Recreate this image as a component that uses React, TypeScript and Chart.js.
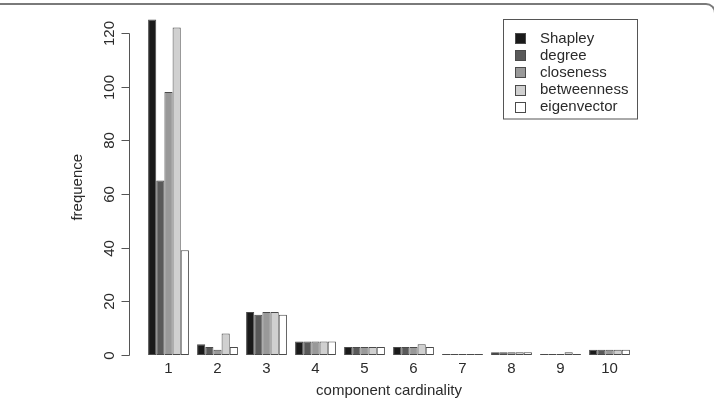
import React, { useEffect, useRef } from "react";
import { Chart, registerables } from "chart.js";

Chart.register(...registerables);

const categories = ["1", "2", "3", "4", "5", "6", "7", "8", "9", "10"];
const seriesNames = ["Shapley", "degree", "closeness", "betweenness", "eigenvector"];
const shapley = [125, 4, 16, 5, 3, 3, 0, 1, 0, 2];
const degree = [65, 3, 15, 5, 3, 3, 0, 1, 0, 2];
const closeness = [98, 2, 16, 5, 3, 3, 0, 1, 0, 2];
const betweenness = [122, 8, 16, 5, 3, 4, 0, 1, 1, 2];
const eigenvector = [39, 3, 15, 5, 3, 3, 0, 1, 0, 2];
const seriesValues = [shapley, degree, closeness, betweenness, eigenvector];
const seriesColors = ["#1a1a1a", "#595959", "#999999", "#d0d0d0", "#ffffff"];
const yTicks = [0, 20, 40, 60, 80, 100, 120];
const xTitle = "component cardinality";
const yTitle = "frequence";

const FONT = "'Liberation Sans', Arial, Helvetica, sans-serif";
const TEXT = "#2b2b2b";
const LINE = "#555555";
const BORDER = "#4a4a4a";

const rAxisPlugin = {
  id: "rAxis",
  afterDraw(chart: any) {
    const ctx = chart.ctx;
    const ys = chart.scales.y;
    const area = chart.chartArea;
    const axisX = Math.round(area.left - 15) + 0.5;
    ctx.save();
    ctx.strokeStyle = LINE;
    ctx.lineWidth = 1;
    const y0 = ys.getPixelForValue(yTicks[0]);
    const y1 = ys.getPixelForValue(yTicks[yTicks.length - 1]);
    ctx.beginPath();
    ctx.moveTo(axisX, Math.round(y0) + 0.5);
    ctx.lineTo(axisX, Math.round(y1) + 0.5);
    ctx.stroke();
    ctx.fillStyle = TEXT;
    ctx.font = `15px ${FONT}`;
    ctx.textAlign = "center";
    ctx.textBaseline = "middle";
    for (const t of yTicks) {
      const py = Math.round(ys.getPixelForValue(t)) + 0.5;
      ctx.beginPath();
      ctx.moveTo(axisX - 8, py);
      ctx.lineTo(axisX, py);
      ctx.stroke();
      ctx.save();
      ctx.translate(axisX - 19.5, py);
      ctx.rotate(-Math.PI / 2);
      ctx.fillText(String(t), 0, 0);
      ctx.restore();
    }
    // y title
    ctx.save();
    ctx.translate(78, ys.getPixelForValue(62.5));
    ctx.rotate(-Math.PI / 2);
    ctx.fillText(yTitle, 0, 0);
    ctx.restore();

    // legend (topright, boxed)
    const lx = 503.5, ly = 19.5, lw = 134, lh = 99.5;
    ctx.strokeStyle = LINE;
    ctx.strokeRect(lx, ly, lw, lh);
    ctx.textAlign = "left";
    chart.data.datasets.forEach((ds: any, i: number) => {
      const cy = 38 + i * 17.2;
      ctx.fillStyle = ds.backgroundColor;
      ctx.fillRect(515.5, Math.round(cy - 5) + 0.5, 10, 10);
      ctx.strokeStyle = BORDER;
      ctx.strokeRect(515.5, Math.round(cy - 5) + 0.5, 10, 10);
      ctx.fillStyle = TEXT;
      ctx.fillText(ds.label, 540, cy + 0.5);
    });
    ctx.restore();
  },
};

export default function App() {
  const ref = useRef<HTMLCanvasElement | null>(null);
  useEffect(() => {
    document.body.style.margin = "0";
    if (!ref.current) return;
    const chart = new Chart(ref.current, {
      type: "bar",
      data: {
        labels: categories,
        datasets: seriesNames.map((name, i) => ({
          label: name,
          data: seriesValues[i],
          backgroundColor: seriesColors[i],
          borderColor: BORDER,
          borderWidth: 1,
          borderSkipped: false,
          categoryPercentage: 5 / 6,
          barPercentage: 1,
          minBarLength: 1,
        })),
      },
      options: {
        responsive: false,
        animation: false,
        layout: { padding: { left: 144, right: 80, top: 6, bottom: 0 } },
        plugins: { legend: { display: false }, tooltip: { enabled: false } },
        scales: {
          x: {
            grid: { display: false, drawTicks: false },
            border: { display: false },
            ticks: { color: TEXT, font: { family: FONT, size: 15 }, padding: 5 },
            title: {
              display: true,
              text: xTitle,
              color: TEXT,
              font: { family: FONT, size: 15 },
              padding: { top: 2, bottom: 0 },
            },
            afterFit(scale: any) {
              scale.height = 45;
            },
          },
          y: {
            display: false,
            min: 0,
            max: 130,
          },
        },
      },
      plugins: [rAxisPlugin],
    });
    return () => chart.destroy();
  }, []);
  return (
    <div style={{ position: "relative", width: 714, height: 400, overflow: "hidden", background: "#fff" }}>
      <div
        style={{
          position: "absolute",
          left: -20,
          top: 3,
          width: 736,
          height: 600,
          border: "2px solid #7a7a7a",
          borderRadius: 10,
          boxSizing: "border-box",
        }}
      />
      <canvas ref={ref} width={714} height={400} style={{ position: "absolute", left: 0, top: 0, display: "block" }} />
    </div>
  );
}
